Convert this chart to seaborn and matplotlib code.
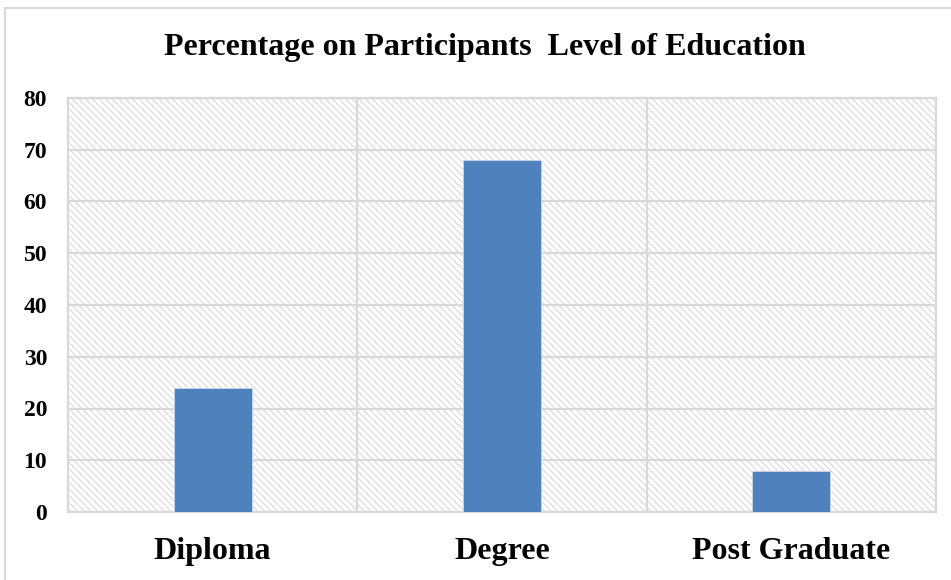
import matplotlib
matplotlib.use("Agg")
import matplotlib.pyplot as plt
from matplotlib.patches import Rectangle
import seaborn as sns
import pandas as pd

categories = ["Diploma", "Degree", "Post Graduate"]
percentages = [24, 68, 8]
y_ticks = [0, 10, 20, 30, 40, 50, 60, 70, 80]

sns.set_style("white")
plt.rcParams["font.family"] = ["Liberation Serif", "DejaVu Serif"]
plt.rcParams["hatch.linewidth"] = 0.7

W, H = 951, 580
fig = plt.figure(figsize=(W / 100, H / 100), dpi=100)
ax = fig.add_axes([68 / W, 1 - 512 / H, (936 - 68) / W, (512 - 98) / H])

# hatched plot-area background
ax.patch.set_facecolor("white")
ax.patch.set_hatch("\\\\\\\\\\")
ax.patch.set_edgecolor("#d6d6d6")
ax.patch.set_linewidth(0)

df = pd.DataFrame({"level": categories, "pct": percentages})
sns.barplot(data=df, x="level", y="pct", color="#4F81BD", saturation=1,
            width=0.27, ax=ax, zorder=3, edgecolor="#c9d6e8", linewidth=0.6)

ax.set_xlim(-0.5, len(categories) - 0.5)
ax.set_ylim(0, 80)
ax.set_yticks(y_ticks)
ax.set_xticks(range(len(categories)))
ax.set_xticks([i + 0.5 for i in range(len(categories) - 1)], minor=True)
ax.grid(axis="y", color="#d9d9d9", linewidth=1.6, zorder=1)
ax.grid(axis="x", which="minor", color="#d9d9d9", linewidth=1.6, zorder=1)
ax.grid(axis="x", which="major", visible=False)
ax.set_axisbelow(True)
for s in ax.spines.values():
    s.set_color("#d9d9d9")
    s.set_linewidth(1.6)
ax.tick_params(axis="both", which="both", length=0, labelcolor="black")
ax.tick_params(axis="y", pad=15)
ax.tick_params(axis="x", pad=18)
ax.set_xlabel("")
ax.set_ylabel("")
for t in ax.get_yticklabels():
    t.set_fontsize(17)
    t.set_fontweight("bold")
for t in ax.get_xticklabels():
    t.set_fontsize(23)
    t.set_fontweight("bold")

fig.text(485 / W, 1 - 47 / H, "Percentage on Participants  Level of Education",
         ha="center", va="center", fontsize=23, fontweight="bold", color="black")

# outer chart frame
fig.patches.append(Rectangle((5 / W, -0.05), 1.1, 1 - 8 / H + 0.05,
                             transform=fig.transFigure, fill=False,
                             edgecolor="#d9d9d9", linewidth=1.5))

fig.savefig("out.png", dpi=100)
